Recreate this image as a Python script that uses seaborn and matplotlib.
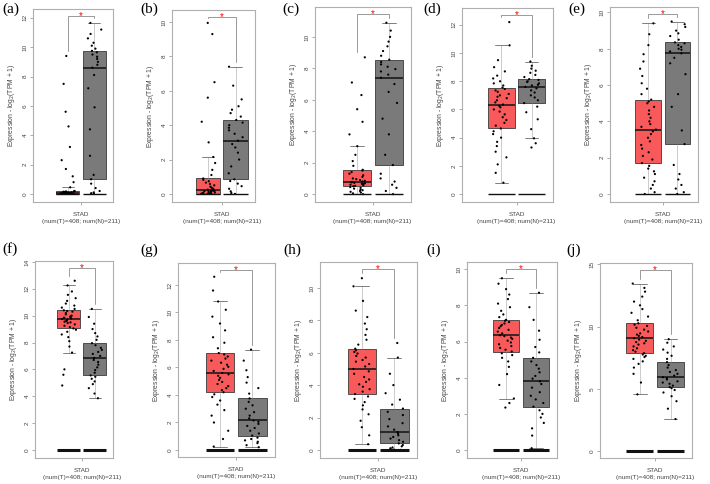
import numpy as np
import pandas as pd
import matplotlib
matplotlib.use("Agg")
import matplotlib.pyplot as plt
import seaborn as sns

# ---------------- values (log2(TPM + 1)) ----------------
panel_labels = ["(a)", "(b)", "(c)", "(d)", "(e)", "(f)", "(g)", "(h)", "(i)", "(j)"]
cancer = "STAD"
tick_text = "STAD\n(num(T)=408; num(N)=211)"
groups = ["Tumor", "Normal"]

tumor_a = [0, 0, 0, 0, 0, 0, 0, 0, 0, 0, 0, 0.01, 0.01, 0.02, 0.02, 0.03, 0.03, 0.04, 0.04, 0.05,
           0.06, 0.07, 0.08, 0.09, 0.1, 0.11, 0.13, 0.15, 0.17, 0.18, 0.2,
           0.45, 0.8, 1.2, 1.7, 2.3, 3.2, 4.6, 5.6, 7.5, 9.4]
normal_a = [0, 0, 0.05, 0.1, 0.2, 0.4, 0.7, 1.0, 1.3, 2.6, 4.4, 5.9, 7.2, 8.1, 8.6,
            8.8, 9.0, 9.2, 9.35, 9.5, 9.65, 9.75, 9.9, 10.1, 10.3, 10.6, 10.9, 11.2, 11.65]

tumor_b = [0, 0, 0, 0, 0, 0, 0, 0, 0.01, 0.01, 0.02, 0.04, 0.06, 0.08, 0.1, 0.12, 0.14, 0.16, 0.18, 0.19,
           0.2, 0.25, 0.3, 0.36, 0.42, 0.5, 0.58, 0.66, 0.74, 0.82, 0.9,
           1.1, 1.4, 1.8, 2.15, 3.0, 4.2, 5.6, 6.5, 9.3, 9.95]
normal_b = [0, 0.05, 0.15, 0.3, 0.45, 0.6, 0.75, 0.85, 1.2, 1.6, 2.0, 2.4, 2.7, 2.9, 3.1,
            3.3, 3.5, 3.7, 3.85, 4.0, 4.15, 4.3, 4.5, 4.7, 4.9, 5.1, 5.5, 6.3, 7.4]

tumor_c = [0, 0.05, 0.1, 0.15, 0.2, 0.25, 0.3, 0.35, 0.4, 0.45, 0.5, 0.53, 0.56, 0.6, 0.63, 0.66, 0.69,
           0.72, 0.75, 0.78, 0.8, 0.85, 0.9, 0.95, 1.0, 1.1, 1.2, 1.3, 1.4, 1.5, 1.55,
           1.8, 2.1, 2.5, 3.05, 3.8, 4.6, 5.4, 6.3, 7.1, 8.7]
normal_c = [0, 0.2, 0.4, 0.6, 0.8, 1.0, 1.3, 1.85, 2.5, 3.8, 4.8, 5.8, 6.5, 7.0, 7.4,
            7.6, 7.8, 7.95, 8.1, 8.25, 8.4, 8.55, 8.8, 9.1, 9.4, 9.7, 10.0, 10.4, 10.9]

tumor_d = [0.8, 1.5, 2.1, 2.6, 3.0, 3.4, 3.7, 4.0, 4.25, 4.45, 4.65, 4.85, 5.05, 5.25, 5.45, 5.65, 5.85,
           6.0, 6.15, 6.25, 6.35, 6.5, 6.65, 6.8, 6.9, 7.0, 7.1, 7.25, 7.35, 7.45, 7.55,
           7.7, 7.85, 8.0, 8.2, 8.4, 8.7, 9.0, 9.5, 10.55, 12.2]
normal_d = [3.3, 3.6, 3.95, 4.6, 5.3, 5.8, 6.2, 6.45, 6.65, 6.85, 7.0, 7.2, 7.35, 7.5, 7.6,
            7.7, 7.75, 7.85, 7.95, 8.0, 8.1, 8.15, 8.3, 8.45, 8.6, 8.75, 8.9, 9.1, 9.4]

tumor_e = [0, 0.1, 0.3, 0.5, 0.7, 0.9, 1.1, 1.25, 1.4, 1.55, 1.7, 1.9, 2.1, 2.3, 2.5, 2.7, 2.9,
           3.1, 3.3, 3.45, 3.55, 3.7, 3.85, 4.0, 4.2, 4.4, 4.6, 4.8, 5.0, 5.1, 5.2,
           5.5, 5.8, 6.1, 6.5, 6.9, 7.3, 7.7, 8.2, 8.8, 9.4]
normal_e = [0, 0.1, 0.3, 0.5, 0.8, 1.1, 1.6, 2.75, 3.5, 4.8, 5.5, 6.6, 7.2, 7.5, 7.75,
            7.85, 7.95, 8.0, 8.1, 8.2, 8.3, 8.35, 8.5, 8.7, 8.85, 9.0, 9.2, 9.35, 9.5]

tumor_f = [4.8, 5.6, 6.0, 7.25, 7.7, 8.1, 8.4, 8.6, 8.8, 8.95, 9.05, 9.15, 9.25, 9.35, 9.45, 9.5, 9.55,
           9.6, 9.65, 9.7, 9.75, 9.8, 9.85, 9.9, 9.95, 10.0, 10.1, 10.2, 10.3, 10.35, 10.4,
           10.5, 10.6, 10.75, 10.9, 11.1, 11.3, 11.55, 11.8, 12.25, 12.6]
normal_f = [3.85, 4.2, 4.6, 4.9, 5.1, 5.3, 5.45, 5.55, 5.75, 5.95, 6.15, 6.35, 6.55, 6.7, 6.85,
            7.0, 7.15, 7.3, 7.45, 7.6, 7.8, 7.95, 8.2, 8.45, 8.7, 9.0, 9.4, 9.9, 10.5]

tumor_g = [0.25, 0.8, 1.4, 2.0, 2.5, 2.9, 3.3, 3.6, 3.85, 4.05, 4.2, 4.35, 4.5, 4.65, 4.8, 4.95, 5.1,
           5.25, 5.4, 5.5, 5.6, 5.75, 5.9, 6.05, 6.2, 6.35, 6.5, 6.65, 6.8, 6.95, 7.05,
           7.4, 7.8, 8.2, 8.7, 9.2, 9.7, 10.2, 10.8, 11.6, 12.6]
normal_g = [0.2, 0.35, 0.5, 0.6, 0.7, 0.8, 0.9, 1.05, 1.2, 1.4, 1.6, 1.75, 1.9, 2.05, 2.15,
            2.3, 2.5, 2.75, 3.0, 3.25, 3.5, 3.75, 4.1, 4.5, 4.9, 5.3, 5.8, 6.5, 7.3]

tumor_h = [0.35, 0.9, 1.4, 1.8, 2.2, 2.5, 2.75, 2.95, 3.15, 3.3, 3.45, 3.6, 3.75, 3.9, 4.05, 4.2, 4.35,
           4.5, 4.7, 4.85, 5.0, 5.15, 5.3, 5.45, 5.55, 5.7, 5.8, 5.95, 6.05, 6.15, 6.25,
           6.5, 6.8, 7.1, 7.45, 7.8, 8.2, 8.6, 9.2, 10.1, 10.6]
normal_h = [0, 0.02, 0.05, 0.1, 0.15, 0.22, 0.3, 0.4, 0.5, 0.6, 0.7, 0.8, 0.9, 1.0, 1.1,
            1.25, 1.45, 1.65, 1.9, 2.15, 2.35, 2.55, 2.8, 3.1, 3.5, 4.0, 4.7, 5.7, 6.6]

tumor_i = [2.35, 2.6, 2.85, 3.6, 4.2, 4.6, 4.9, 5.1, 5.25, 5.35, 5.45, 5.55, 5.65, 5.75, 5.85, 5.95, 6.05,
           6.15, 6.22, 6.3, 6.35, 6.45, 6.55, 6.65, 6.75, 6.85, 6.92, 7.0, 7.08, 7.15, 7.2,
           7.35, 7.5, 7.7, 7.9, 8.1, 8.35, 8.6, 8.9, 9.2, 9.5]
normal_i = [0.1, 0.8, 1.2, 1.5, 1.8, 2.0, 2.2, 2.4, 2.6, 2.8, 3.0, 3.2, 3.45, 3.65, 3.8,
            3.95, 4.1, 4.3, 4.5, 4.7, 4.9, 5.1, 5.4, 5.7, 6.1, 6.6, 7.2, 7.9, 8.7]

tumor_j = [4.55, 5.5, 6.2, 6.7, 7.0, 7.2, 7.4, 7.55, 7.65, 7.75, 7.86, 7.98, 8.1, 8.25, 8.4, 8.55, 8.65,
           8.75, 8.85, 8.95, 9.06, 9.15, 9.25, 9.35, 9.45, 9.6, 9.75, 9.9, 10.05, 10.15, 10.26,
           10.5, 10.8, 11.1, 11.4, 11.7, 12.0, 12.4, 12.8, 13.1, 13.45]
normal_j = [2.57, 3.4, 4.0, 4.4, 4.7, 4.9, 5.05, 5.13, 5.25, 5.4, 5.5, 5.6, 5.75, 5.85, 5.93,
            6.05, 6.2, 6.35, 6.5, 6.7, 6.9, 7.14, 7.4, 7.65, 7.9, 8.15, 8.4, 8.7, 8.98]

tumor_values = [tumor_a, tumor_b, tumor_c, tumor_d, tumor_e,
                tumor_f, tumor_g, tumor_h, tumor_i, tumor_j]
normal_values = [normal_a, normal_b, normal_c, normal_d, normal_e,
                 normal_f, normal_g, normal_h, normal_i, normal_j]

# axis ranges / tick steps per panel
y_limits = [(-0.55, 12.6), (-0.47, 10.7), (-0.5, 11.9), (-0.57, 13.2), (-0.44, 10.3),
            (-0.6, 14.07), (-0.51, 13.6), (-0.5, 11.6), (-0.44, 10.4), (-0.56, 15.1)]
y_steps = [2, 2, 2, 2, 2, 2, 2, 2, 2, 5]

# ---------------- layout (pixel frames: left, top, right, bottom) ----------------
W, H = 710, 484
frames = [(33, 9, 113, 202), (172, 10, 255, 202), (315, 7, 411, 202), (462, 8, 553, 202),
          (610, 7, 698, 202), (35, 261, 113, 458), (178, 263, 275, 457), (320, 262, 417, 458),
          (467, 262, 557, 458), (600, 263, 692, 458)]
label_pos = [(2, 9), (140, 9), (282, 9), (423, 9), (568, 9),
             (2, 249), (140, 250), (283, 250), (426, 250), (566, 250)]

tumor_color = "#F85A5C"
normal_color = "#7A7A7A"
frame_color = "#AFAFAF"
text_color = "#444444"

sns.set_theme(style="white")
plt.rcParams["font.family"] = ["Liberation Sans", "DejaVu Sans"]

np.random.seed(3)
fig = plt.figure(figsize=(W / 100, H / 100), dpi=100)

gap = 0.12
half = 0.4 * (1 - gap) / 2
centers = [-0.2, 0.2]

for i in range(10):
    l, t, r, b = frames[i]
    ax = fig.add_axes([l / W, 1 - b / H, (r - l) / W, (b - t) / H])

    tv, nv = tumor_values[i], normal_values[i]
    df = pd.DataFrame({
        "cancer": cancer,
        "group": ["Tumor"] * len(tv) + ["Normal"] * len(nv),
        "expr": tv + nv,
    })

    sns.boxplot(data=df, x="cancer", y="expr", hue="group", hue_order=groups,
                palette={"Tumor": tumor_color, "Normal": normal_color}, saturation=1,
                width=0.8, gap=gap, showfliers=False, linecolor="#3A3A3A", linewidth=0.6,
                whiskerprops=dict(color="#8A8A8A", linewidth=0.6, linestyle=(0, (1.2, 1.2))),
                capprops=dict(color="#6A6A6A", linewidth=0.6),
                medianprops=dict(color="#111111", linewidth=1.1),
                legend=False, ax=ax)
    sns.stripplot(data=df, x="cancer", y="expr", hue="group", hue_order=groups,
                  palette={"Tumor": "black", "Normal": "black"}, dodge=True,
                  jitter=0.22, size=1.6, linewidth=0, legend=False, ax=ax)

    # flat zero bars under each group
    zero_lw = 1.0 if i < 5 else 2.2
    for c in centers:
        ax.hlines(0, c - half, c + half, color="#111111", lw=zero_lw, zorder=4)

    y0, y1 = y_limits[i]
    span = y1 - y0
    ax.set_ylim(y0, y1)
    ax.set_xlim(-0.72, 0.48)

    # significance bracket
    top = y1 - 0.035 * span
    pad = 0.025 * span
    ax.plot([centers[0], centers[0], centers[1], centers[1]],
            [max(tv) + pad, top, top, max(nv) + pad],
            color="#9A9A9A", lw=0.7, zorder=5)
    ax.text(0, top, "*", color="red", ha="center", va="center", fontsize=7, zorder=6)

    ax.set_yticks(np.arange(0, y1, y_steps[i]))
    ax.set_xticks([0])
    ax.set_xticklabels([tick_text], fontsize=4.6, color=text_color, linespacing=1.5)
    ax.tick_params(axis="y", labelsize=4.6, labelcolor=text_color, labelrotation=90, pad=1.5)
    ax.tick_params(axis="x", pad=4.5)
    ax.tick_params(left=True, bottom=True, length=2.5, width=0.5, color="#888888")
    for lab in ax.get_yticklabels():
        lab.set_va("center")
    ax.set_xlabel("")
    ax.set_ylabel("Expression - log$_2$(TPM + 1)", fontsize=4.9, color=text_color, labelpad=4)
    for s in ax.spines.values():
        s.set_color(frame_color)
        s.set_linewidth(0.8)

    lx, ly = label_pos[i]
    fig.text(lx / W, 1 - ly / H, panel_labels[i], fontsize=11, ha="left", va="center",
             family=["Liberation Serif", "DejaVu Serif"], color="black")

fig.savefig("out.png", dpi=100)
